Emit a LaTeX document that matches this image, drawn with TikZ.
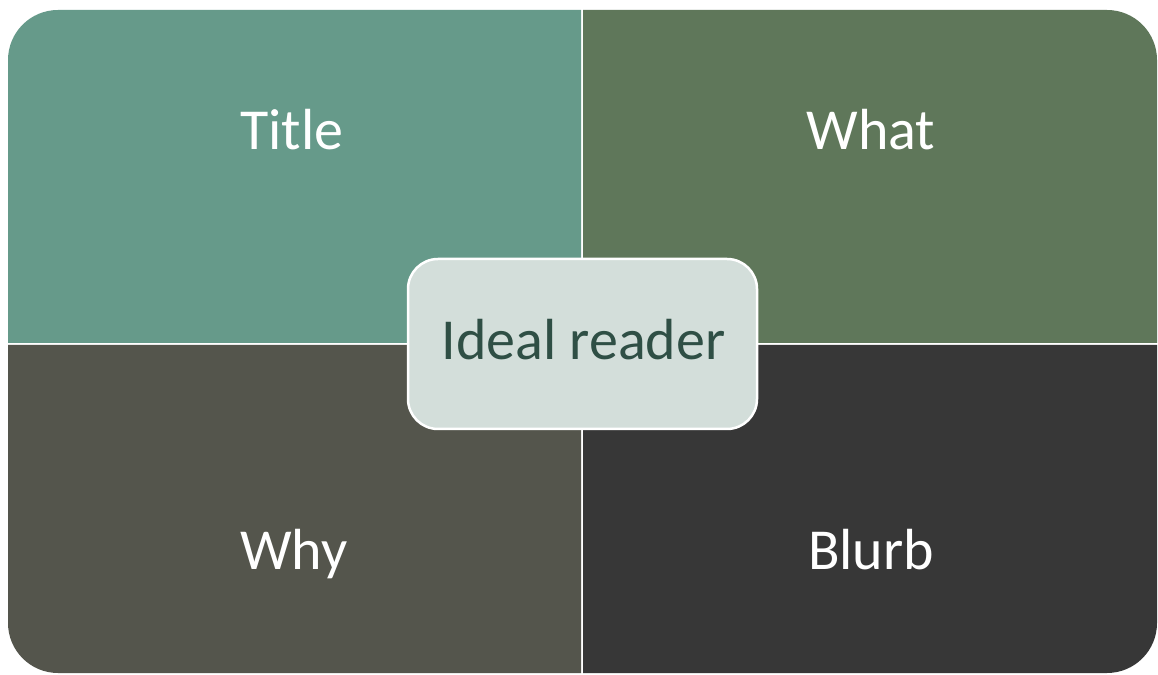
\documentclass[tikz,border=0pt]{standalone}
\usepackage{fontspec}
\setmainfont{Carlito}
\definecolor{cTL}{HTML}{669A8A}
\definecolor{cTR}{HTML}{5F775A}
\definecolor{cBL}{HTML}{54554C}
\definecolor{cBR}{HTML}{373737}
\definecolor{cC}{HTML}{D3DEDA}
\definecolor{cCt}{HTML}{2F4F45}
\begin{document}
\begin{tikzpicture}[x=1pt,y=1pt,
  qlabel/.style={text=white,font=\fontsize{58}{70}\selectfont,anchor=base,inner sep=0pt},
  centerbox/.style={fill=cC,draw=white,line width=2.5pt,rounded corners=30pt,minimum width=349pt,minimum height=170pt,inner sep=0pt}]
\useasboundingbox (0,0) rectangle (1158,674);
\fill[white] (0,0) rectangle (1158,674);
% quadrants
\fill[cTL] (8,331) -- (8,614) arc[start angle=180,end angle=90,radius=50] -- (581,664) -- (581,331) -- cycle;
\fill[cTR] (583,331) -- (583,664) -- (1107,664) arc[start angle=90,end angle=0,radius=50] -- (1157,331) -- cycle;
\fill[cBL] (8,329) -- (8,51) arc[start angle=180,end angle=270,radius=50] -- (581,1) -- (581,329) -- cycle;
\fill[cBR] (583,329) -- (583,1) -- (1107,1) arc[start angle=270,end angle=360,radius=50] -- (1157,51) -- (1157,329) -- cycle;
% labels
\node[qlabel] (title) at (292,524) {Title};
\node[qlabel] (what) at (871,524) {What};
\node[qlabel] (why) at (294,104) {Why};
\node[qlabel] (blurb) at (871,104) {Blurb};
% center
\node[centerbox] (center) at (582.5,330) {};
\node[qlabel,text=cCt] (ideal) at (583.5,314) {Ideal reader};
\end{tikzpicture}
\end{document}
